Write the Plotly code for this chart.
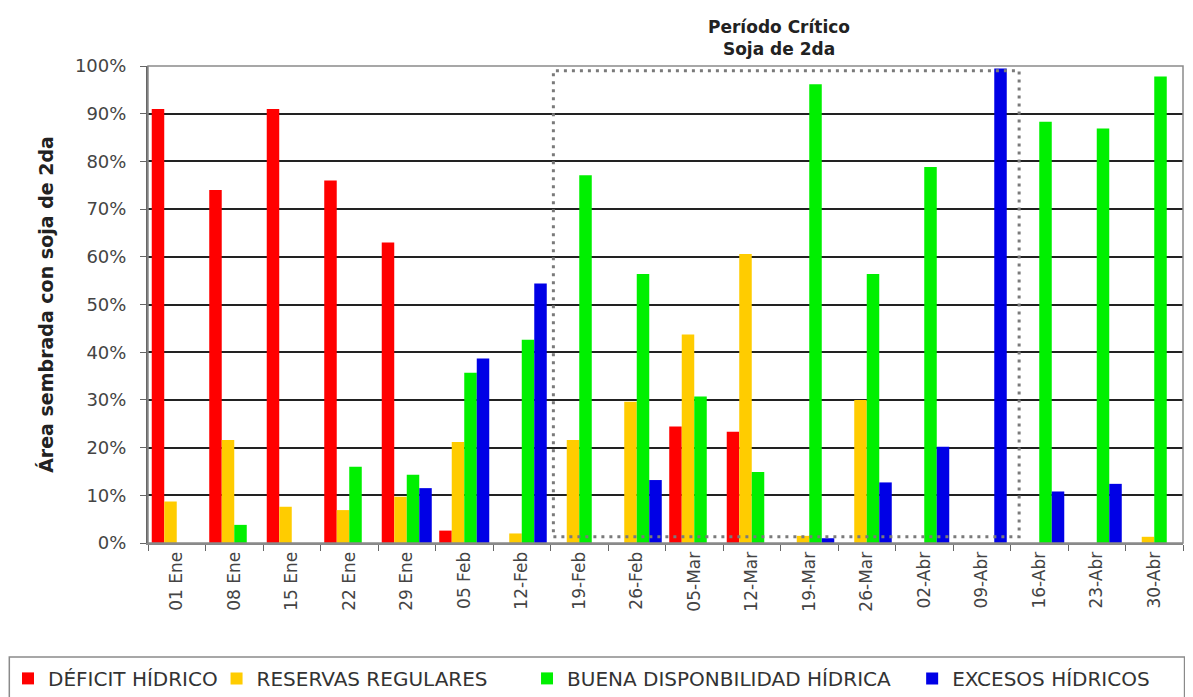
import plotly.graph_objects as go

categories = ["01 Ene", "08 Ene", "15 Ene", "22 Ene", "29 Ene", "05 Feb", "12-Feb",
              "19-Feb", "26-Feb", "05-Mar", "12-Mar", "19-Mar", "26-Mar", "02-Abr",
              "09-Abr", "16-Abr", "23-Abr", "30-Abr"]

deficit = [91, 74, 91, 76, 63, 2.6, 0, 0, 0, 24.4, 23.3, 0, 0, 0, 0, 0, 0, 0]
reservas = [8.7, 21.6, 7.6, 6.9, 9.7, 21.2, 2, 21.6, 29.6, 43.7, 60.6, 1.5, 30, 0, 0, 0, 0, 1.3]
buena = [0, 3.8, 0, 16, 14.3, 35.7, 42.6, 77.1, 56.4, 30.7, 14.9, 96.2, 56.4, 78.8, 0, 88.3, 86.9, 97.8]
excesos = [0, 0, 0, 0, 11.5, 38.7, 54.4, 0, 13.2, 0, 0, 1, 12.7, 20.2, 99.5, 10.8, 12.4, 0]

series_names = ["DÉFICIT HÍDRICO", "RESERVAS REGULARES",
                "BUENA DISPONBILIDAD HÍDRICA", "EXCESOS HÍDRICOS"]
series_values = [deficit, reservas, buena, excesos]
series_colors = ["#FF0000", "#FFCC00", "#00F000", "#0000E6"]
legend_ids = ["legend", "legend2", "legend3", "legend4"]
legend_x = [-0.011, 0.176, 0.438, 0.763]

y_ticks = [0, 10, 20, 30, 40, 50, 60, 70, 80, 90, 100]

FONT = "DejaVu Sans, Liberation Sans, Arial, sans-serif"

fig = go.Figure()
for name, vals, col, lid in zip(series_names, series_values, series_colors, legend_ids):
    fig.add_trace(go.Bar(x=categories, y=vals, name=name, marker_color=col,
                         marker_line_width=0, legend=lid))

# plot border (gray)
fig.add_shape(type="rect", xref="paper", yref="paper", x0=0, x1=1, y0=0, y1=1,
              line=dict(color="#8a8a8a", width=1.5), layer="above")
# critical period dotted box
fig.add_shape(type="rect", xref="x", yref="y", x0=6.55, x1=14.65, y0=1.3, y1=99,
              line=dict(color="#7a7a7a", width=3, dash="3px,5px"), layer="above")
# legend frame
fig.add_shape(type="rect", xref="paper", yref="paper",
              x0=-0.134, x1=1.0015, y0=-0.36, y1=-0.239,
              line=dict(color="#8a8a8a", width=1.5))

fig.add_annotation(text="<b>Período Crítico<br>Soja de 2da</b>", xref="x", yref="paper",
                   x=10.47, y=1.01, yanchor="bottom", showarrow=False,
                   font=dict(family=FONT, size=17, color="#222222"))

legend_common = dict(orientation="h", xref="container", xanchor="left",
                     yref="container", y=0.027, yanchor="middle",
                     font=dict(family=FONT, size=20, color="#333333"),
                     itemwidth=30, bgcolor="rgba(0,0,0,0)")

layout_legends = {lid: dict(legend_common, x=lx) for lid, lx in zip(legend_ids, legend_x)}

fig.update_layout(
    width=1185, height=689,
    margin=dict(l=140, r=10, t=58, b=154, autoexpand=False),
    paper_bgcolor="white", plot_bgcolor="white",
    barmode="group", bargap=0.13, bargroupgap=0,
    font=dict(family=FONT, color="#444444"),
    showlegend=True,
    **layout_legends,
)

fig.update_xaxes(
    type="category", tickangle=-90, tickson="boundaries", ticks="outside",
    ticklen=6, tickcolor="#666666", showline=True, linecolor="#888888", linewidth=2,
    showgrid=False, tickfont=dict(family=FONT, size=17, color="#444444"),
    range=[-0.5, 17.5],
)
fig.update_yaxes(
    range=[0, 100], tickvals=y_ticks, ticktext=[f"{v}%" for v in y_ticks],
    ticks="outside", ticklen=6, tickcolor="#666666", ticklabelstandoff=10,
    showline=True, linecolor="#666666", linewidth=2,
    showgrid=True, gridcolor="#222222", gridwidth=2, zeroline=False,
    tickfont=dict(family=FONT, size=18, color="#444444"),
    title=dict(text="<b>Área sembrada con soja de 2da</b>", standoff=16,
               font=dict(family=FONT, size=19, color="#222222")),
)

fig.write_html("out.html")
